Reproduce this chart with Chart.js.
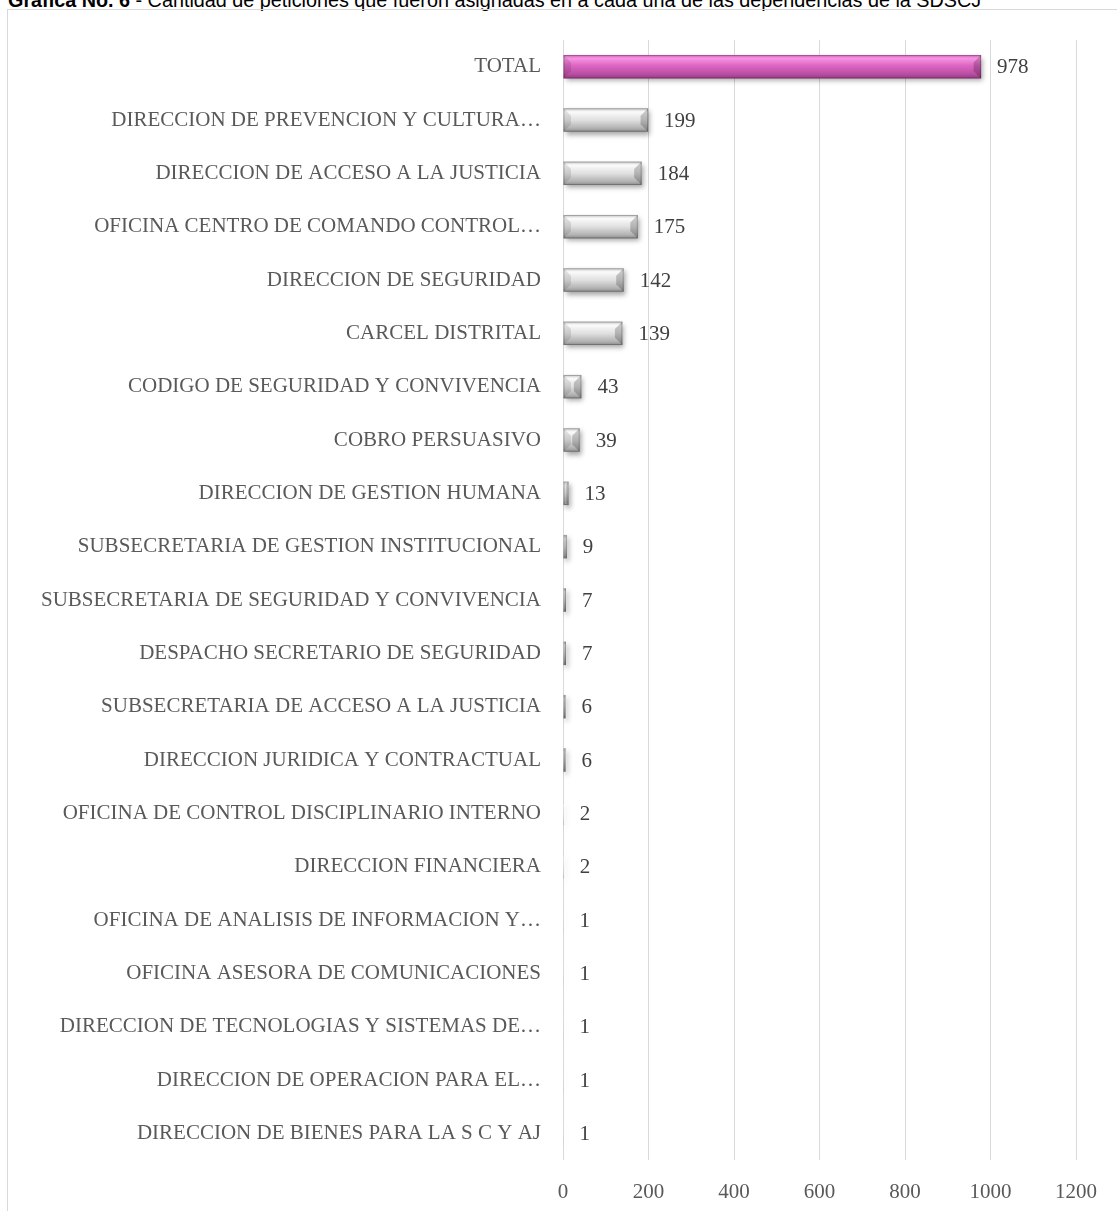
<!DOCTYPE html>
<html lang="es">
<head>
    <meta charset="UTF-8">
    <title>Gráfica No. 6</title>
    <script src="https://cdn.jsdelivr.net/npm/chart.js"></script>
    <style>
        html, body {
            margin: 0;
            padding: 0;
            width: 1117px;
            height: 1211px;
            overflow: hidden;
            background: #fff;
        }
        .title {
            position: absolute;
            left: 8px;
            top: -10px;
            font-family: "Liberation Sans", Arial, sans-serif;
            font-size: 19.8px;
            line-height: 20px;
            color: #000;
            white-space: nowrap;
        }
        .frame {
            position: absolute;
            left: 7px;
            top: 9px;
            width: 2000px;
            height: 2000px;
            border: 1px solid #d9d9d9;
        }
        #chart {
            position: absolute;
            left: 0;
            top: 0;
        }
    </style>
</head>
<body>
<div class="title"><b>Gráfica No. 6</b> - Cantidad de peticiones que fueron asignadas en a cada una de las dependencias de la SDSCJ</div>
<div class="frame"></div>
<canvas id="chart" width="1117" height="1211"></canvas>

<script>
// data
const dependencias = [
    'TOTAL',
    'DIRECCION DE PREVENCION Y CULTURA…',
    'DIRECCION DE ACCESO A LA JUSTICIA',
    'OFICINA CENTRO DE COMANDO CONTROL…',
    'DIRECCION DE SEGURIDAD',
    'CARCEL DISTRITAL',
    'CODIGO DE SEGURIDAD Y CONVIVENCIA',
    'COBRO PERSUASIVO',
    'DIRECCION DE GESTION HUMANA',
    'SUBSECRETARIA DE GESTION INSTITUCIONAL',
    'SUBSECRETARIA DE SEGURIDAD Y CONVIVENCIA',
    'DESPACHO SECRETARIO DE SEGURIDAD',
    'SUBSECRETARIA DE ACCESO A LA JUSTICIA',
    'DIRECCION JURIDICA Y CONTRACTUAL',
    'OFICINA DE CONTROL DISCIPLINARIO INTERNO',
    'DIRECCION FINANCIERA',
    'OFICINA DE ANALISIS DE INFORMACION Y…',
    'OFICINA ASESORA DE COMUNICACIONES',
    'DIRECCION DE TECNOLOGIAS Y SISTEMAS DE…',
    'DIRECCION DE OPERACION PARA EL…',
    'DIRECCION DE BIENES PARA LA S C Y AJ'
];
const peticiones = [978, 199, 184, 175, 142, 139, 43, 39, 13, 9, 7, 7, 6, 6, 2, 2, 1, 1, 1, 1, 1];
const xTicks = [0, 200, 400, 600, 800, 1000, 1200];

const serif = '"Liberation Serif", "DejaVu Serif", serif';

// plot area edges measured on the reference
const PLOT_LEFT = 563;
const PLOT_TOP = 40;
const PLOT_RIGHT = 1077;
const PLOT_BOTTOM = 1160;
const BAR_PCT = 0.44;

function barGradient(ctx, top, bottom, isTotal) {
    const g = ctx.createLinearGradient(0, top, 0, bottom);
    if (isTotal) {
        g.addColorStop(0, '#d060b6');
        g.addColorStop(0.15, '#f794e2');
        g.addColorStop(0.45, '#dc66c2');
        g.addColorStop(0.8, '#bb4fa4');
        g.addColorStop(1, '#963a82');
    } else {
        g.addColorStop(0, '#c4c4c4');
        g.addColorStop(0.15, '#fbfbfb');
        g.addColorStop(0.5, '#e0e0e0');
        g.addColorStop(0.85, '#b2b2b2');
        g.addColorStop(1, '#8a8a8a');
    }
    return g;
}

// vertical gradient per bar, placed with the y scale
function barFill(c) {
    const chart = c.chart;
    const y = chart.scales.y;
    if (!y || !chart.chartArea) return c.dataIndex === 0 ? '#d060b6' : '#d0d0d0';
    const mid = y.getPixelForValue(c.dataIndex);
    const half = (chart.chartArea.height / dependencias.length) * BAR_PCT / 2;
    return barGradient(chart.ctx, mid - half, mid + half, c.dataIndex === 0);
}

// soft drop shadow plus bevel caps on the bars
const bevelBars = {
    id: 'bevelBars',
    beforeDatasetsDraw(chart) {
        const ctx = chart.ctx;
        ctx.save();
        ctx.shadowColor = 'rgba(0,0,0,0.35)';
        ctx.shadowBlur = 5;
        ctx.shadowOffsetX = 2;
        ctx.shadowOffsetY = 3;
    },
    afterDatasetsDraw(chart) {
        const ctx = chart.ctx;
        ctx.restore();
        const meta = chart.getDatasetMeta(0);
        meta.data.forEach((bar) => {
            const x0 = bar.base, x1 = bar.x;
            const y0 = bar.y - bar.height / 2, y1 = bar.y + bar.height / 2;
            const w = x1 - x0;
            if (w < 2) return;
            const b = Math.min(bar.height * 0.32, w / 2);
            // right end cap
            ctx.beginPath();
            ctx.moveTo(x1, y0);
            ctx.lineTo(x1 - b, y0 + b);
            ctx.lineTo(x1 - b, y1 - b);
            ctx.lineTo(x1, y1);
            ctx.closePath();
            ctx.fillStyle = 'rgba(0,0,0,0.2)';
            ctx.fill();
            // left end cap
            ctx.beginPath();
            ctx.moveTo(x0, y0);
            ctx.lineTo(x0 + b, y0 + b);
            ctx.lineTo(x0 + b, y1 - b);
            ctx.lineTo(x0, y1);
            ctx.closePath();
            ctx.fillStyle = 'rgba(0,0,0,0.1)';
            ctx.fill();
            ctx.strokeStyle = 'rgba(0,0,0,0.22)';
            ctx.lineWidth = 1;
            ctx.strokeRect(x0 + 0.5, y0 + 0.5, w - 1, bar.height - 1);
        });
    }
};

// value written to the right of each bar
const valueLabels = {
    id: 'valueLabels',
    afterDraw(chart) {
        const ctx = chart.ctx;
        const meta = chart.getDatasetMeta(0);
        ctx.save();
        ctx.font = '21px ' + serif;
        ctx.fillStyle = '#404040';
        ctx.textAlign = 'left';
        ctx.textBaseline = 'middle';
        meta.data.forEach((bar, i) => {
            ctx.fillText(String(peticiones[i]), bar.x + 16, bar.y + 1);
        });
        ctx.restore();
    }
};

new Chart(document.getElementById('chart'), {
    type: 'bar',
    data: {
        labels: dependencias,
        datasets: [{
            data: peticiones,
            backgroundColor: barFill,
            borderWidth: 0,
            categoryPercentage: 1,
            barPercentage: BAR_PCT
        }]
    },
    options: {
        indexAxis: 'y',
        responsive: false,
        animation: false,
        events: [],
        layout: {
            padding: { top: PLOT_TOP, right: 1117 - PLOT_RIGHT, left: 0, bottom: 0 }
        },
        plugins: {
            legend: { display: false },
            tooltip: { enabled: false },
            title: { display: false }
        },
        scales: {
            x: {
                min: 0,
                max: 1200,
                afterBuildTicks: (s) => { s.ticks = xTicks.map(v => ({ value: v })); },
                afterFit: (s) => { s.height = 1211 - PLOT_BOTTOM; },
                grid: { color: '#d9d9d9', lineWidth: 1, drawTicks: false },
                border: { display: false },
                ticks: {
                    padding: 20,
                    color: '#595959',
                    font: { family: serif, size: 21 },
                    callback: (v) => String(v)
                }
            },
            y: {
                afterFit: (s) => { s.width = PLOT_LEFT; },
                grid: { display: false, drawTicks: false },
                border: { display: false },
                ticks: {
                    padding: 22,
                    autoSkip: false,
                    color: '#595959',
                    font: { family: serif, size: 21 }
                }
            }
        }
    },
    plugins: [bevelBars, valueLabels]
});
</script>
</body>
</html>
